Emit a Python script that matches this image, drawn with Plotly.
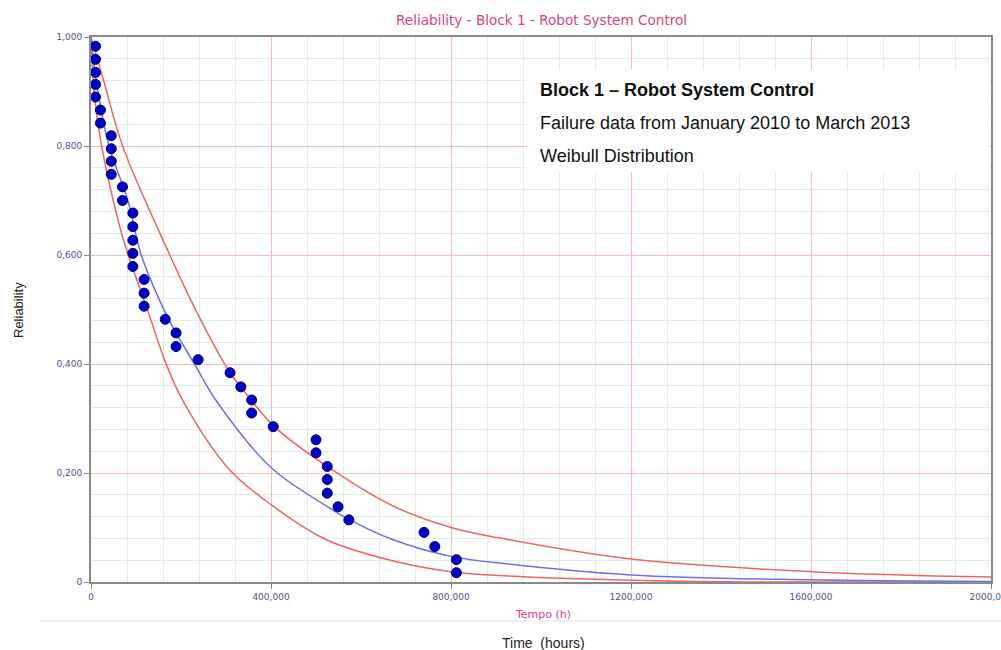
import plotly.graph_objects as go

# Observed failure points (time in hours, median-rank reliability)
fail_time = [10000, 10000, 10000, 10000, 10000, 21000, 21000, 45000, 45000, 45000,
             45000, 70000, 70000, 93000, 93000, 93000, 93000, 93000, 118000, 118000,
             118000, 165000, 189000, 189000, 238000, 309000, 333000, 357000, 357000, 405000,
             500000, 500000, 525000, 525000, 525000, 549000, 573000, 740000, 764000, 812000,
             812000]
fail_rel = [0.983, 0.959, 0.935, 0.913, 0.890, 0.866, 0.842, 0.819, 0.795, 0.772,
            0.748, 0.725, 0.700, 0.677, 0.652, 0.627, 0.603, 0.579, 0.555, 0.530,
            0.506, 0.482, 0.457, 0.432, 0.408, 0.384, 0.358, 0.334, 0.310, 0.285,
            0.261, 0.237, 0.212, 0.188, 0.163, 0.138, 0.114, 0.091, 0.065, 0.041,
            0.017]

# Weibull fit curve
fit_time = [0, 11500, 40000, 82000, 111000, 163000, 189000, 230000, 278000,
            400000, 522000, 573000, 670000, 800000, 928000, 1200000, 1600000, 2000000]
fit_rel = [1.0, 0.921, 0.800, 0.700, 0.602, 0.498, 0.457, 0.400, 0.333,
           0.210, 0.140, 0.115, 0.078, 0.047, 0.033, 0.013, 0.004, 0.001]

# Upper confidence bound
up_time = [0, 27700, 71000, 174000, 237000, 309000, 333000, 405000, 525000, 670000,
           800000, 906000, 1200000, 1600000, 2000000]
up_rel = [1.0, 0.921, 0.798, 0.602, 0.492, 0.384, 0.358, 0.287, 0.212, 0.140,
          0.100, 0.081, 0.042, 0.019, 0.009]

# Lower confidence bound
lo_time = [0, 7800, 24000, 63000, 82000, 126000, 167000, 204000, 307000, 400000,
           522000, 670000, 800000, 928000, 1200000, 1450000, 2000000]
lo_rel = [1.0, 0.89, 0.798, 0.655, 0.602, 0.498, 0.400, 0.333, 0.207, 0.142,
          0.078, 0.039, 0.019, 0.011, 0.003, 0.0, 0.0]

x_tickvals = [0, 400000, 800000, 1200000, 1600000, 2000000]
x_ticktext = ["0", "400,000", "800,000", "1200,000", "1600,000", "2000,000"]
y_tickvals = [0, 0.2, 0.4, 0.6, 0.8, 1.0]
y_ticktext = ["0", "0,200", "0,400", "0,600", "0,800", "1,000"]

# minor grid: 5 subdivisions between major ticks (skip major positions)
x_minor = [x_tickvals[i] + k * (x_tickvals[i + 1] - x_tickvals[i]) / 5
           for i in range(len(x_tickvals) - 1) for k in range(1, 5)]
y_minor = [round(y_tickvals[i] + k * (y_tickvals[i + 1] - y_tickvals[i]) / 5, 4)
           for i in range(len(y_tickvals) - 1) for k in range(1, 5)]

RED = "#f06464"
BLUE = "#7070ee"
PINK = "#e0446e"
TICKC = "#50509a"
MAJOR_GRID = "#f5bcbc"
MINOR_GRID = "#dcf2dc"

fig = go.Figure()
for xs, ys, col in [(up_time, up_rel, RED), (lo_time, lo_rel, RED), (fit_time, fit_rel, BLUE)]:
    fig.add_trace(go.Scatter(x=xs, y=ys, mode="lines",
                             line=dict(color=col, width=1.5, shape="spline", smoothing=1.0),
                             showlegend=False, hoverinfo="skip"))
fig.add_trace(go.Scatter(x=fail_time, y=fail_rel, mode="markers",
                         marker=dict(color="#0000cc", size=10, line=dict(color="#00005a", width=1)),
                         showlegend=False, cliponaxis=False))

axis_common = dict(
    showline=True, linecolor="#8a8a8a", linewidth=2, mirror=True,
    ticks="outside", ticklen=5, tickcolor="#8a8a8a",
    showgrid=True, gridcolor=MAJOR_GRID, gridwidth=1, zeroline=False,
    tickfont=dict(family="DejaVu Sans", size=9, color=TICKC),
    ticklabeloverflow="allow", automargin=False,
)

fig.update_xaxes(range=[0, 2000000], tickmode="array", tickvals=x_tickvals, ticktext=x_ticktext,
                 minor=dict(tickmode="array", tickvals=x_minor, showgrid=True, gridcolor=MINOR_GRID, ticks=""),
                 **axis_common)
fig.update_yaxes(range=[0, 1.0], tickmode="array", tickvals=y_tickvals, ticktext=y_ticktext,
                 minor=dict(tickmode="array", tickvals=y_minor, showgrid=True, gridcolor=MINOR_GRID, ticks=""),
                 **axis_common)

PW, PH, L, T = 900, 545, 91, 37
fig.update_layout(
    width=1001, height=650,
    margin=dict(l=L, r=1001 - L - PW, t=T, b=650 - T - PH),
    paper_bgcolor="white", plot_bgcolor="white",
    title=dict(text="Reliability - Block 1 - Robot System Control", x=0.541, xanchor="center",
               y=1 - 20 / 650, yanchor="middle",
               font=dict(family="DejaVu Sans", size=13.6, color=PINK)),
)

def px(xp):
    return (xp - L) / PW

def py(yp):
    return (T + PH - yp) / PH

# White info box
fig.add_shape(type="rect", xref="paper", yref="paper", x0=px(527), x1=px(989), y0=py(172), y1=py(70),
              fillcolor="white", line=dict(width=0), layer="above")
fig.add_shape(type="line", xref="paper", yref="paper", x0=px(40), x1=px(1010), y0=py(621), y1=py(621),
              line=dict(color="#e2e2e2", width=1))

for txt, ypx, bold in [("Block 1 – Robot System Control", 90, True),
                       ("Failure data from January 2010 to March 2013", 123, False),
                       ("Weibull Distribution", 156, False)]:
    fig.add_annotation(xref="paper", yref="paper", x=px(538), y=py(ypx), xanchor="left", yanchor="middle",
                       text=f"<b>{txt}</b>" if bold else txt, showarrow=False,
                       font=dict(family="Liberation Sans", size=18, color="#111111"))

fig.add_annotation(xref="paper", yref="paper", x=px(543), y=py(614), xanchor="center", yanchor="middle",
                   text="Tempo (h)", showarrow=False, font=dict(family="DejaVu Sans", size=11, color=PINK))
fig.add_annotation(xref="paper", yref="paper", x=px(543), y=py(643), xanchor="center", yanchor="middle",
                   text="Time  (hours)", showarrow=False, font=dict(family="Liberation Sans", size=14, color="#222222"))
fig.add_annotation(xref="paper", yref="paper", x=px(18), y=py(310), xanchor="center", yanchor="middle",
                   text="Reliability", textangle=-90, showarrow=False,
                   font=dict(family="Liberation Sans", size=13, color="#222222"))

fig.write_html("out.html", config={"displayModeBar": False},
               post_script="document.body.style.margin='0';document.body.style.overflow='hidden';")
